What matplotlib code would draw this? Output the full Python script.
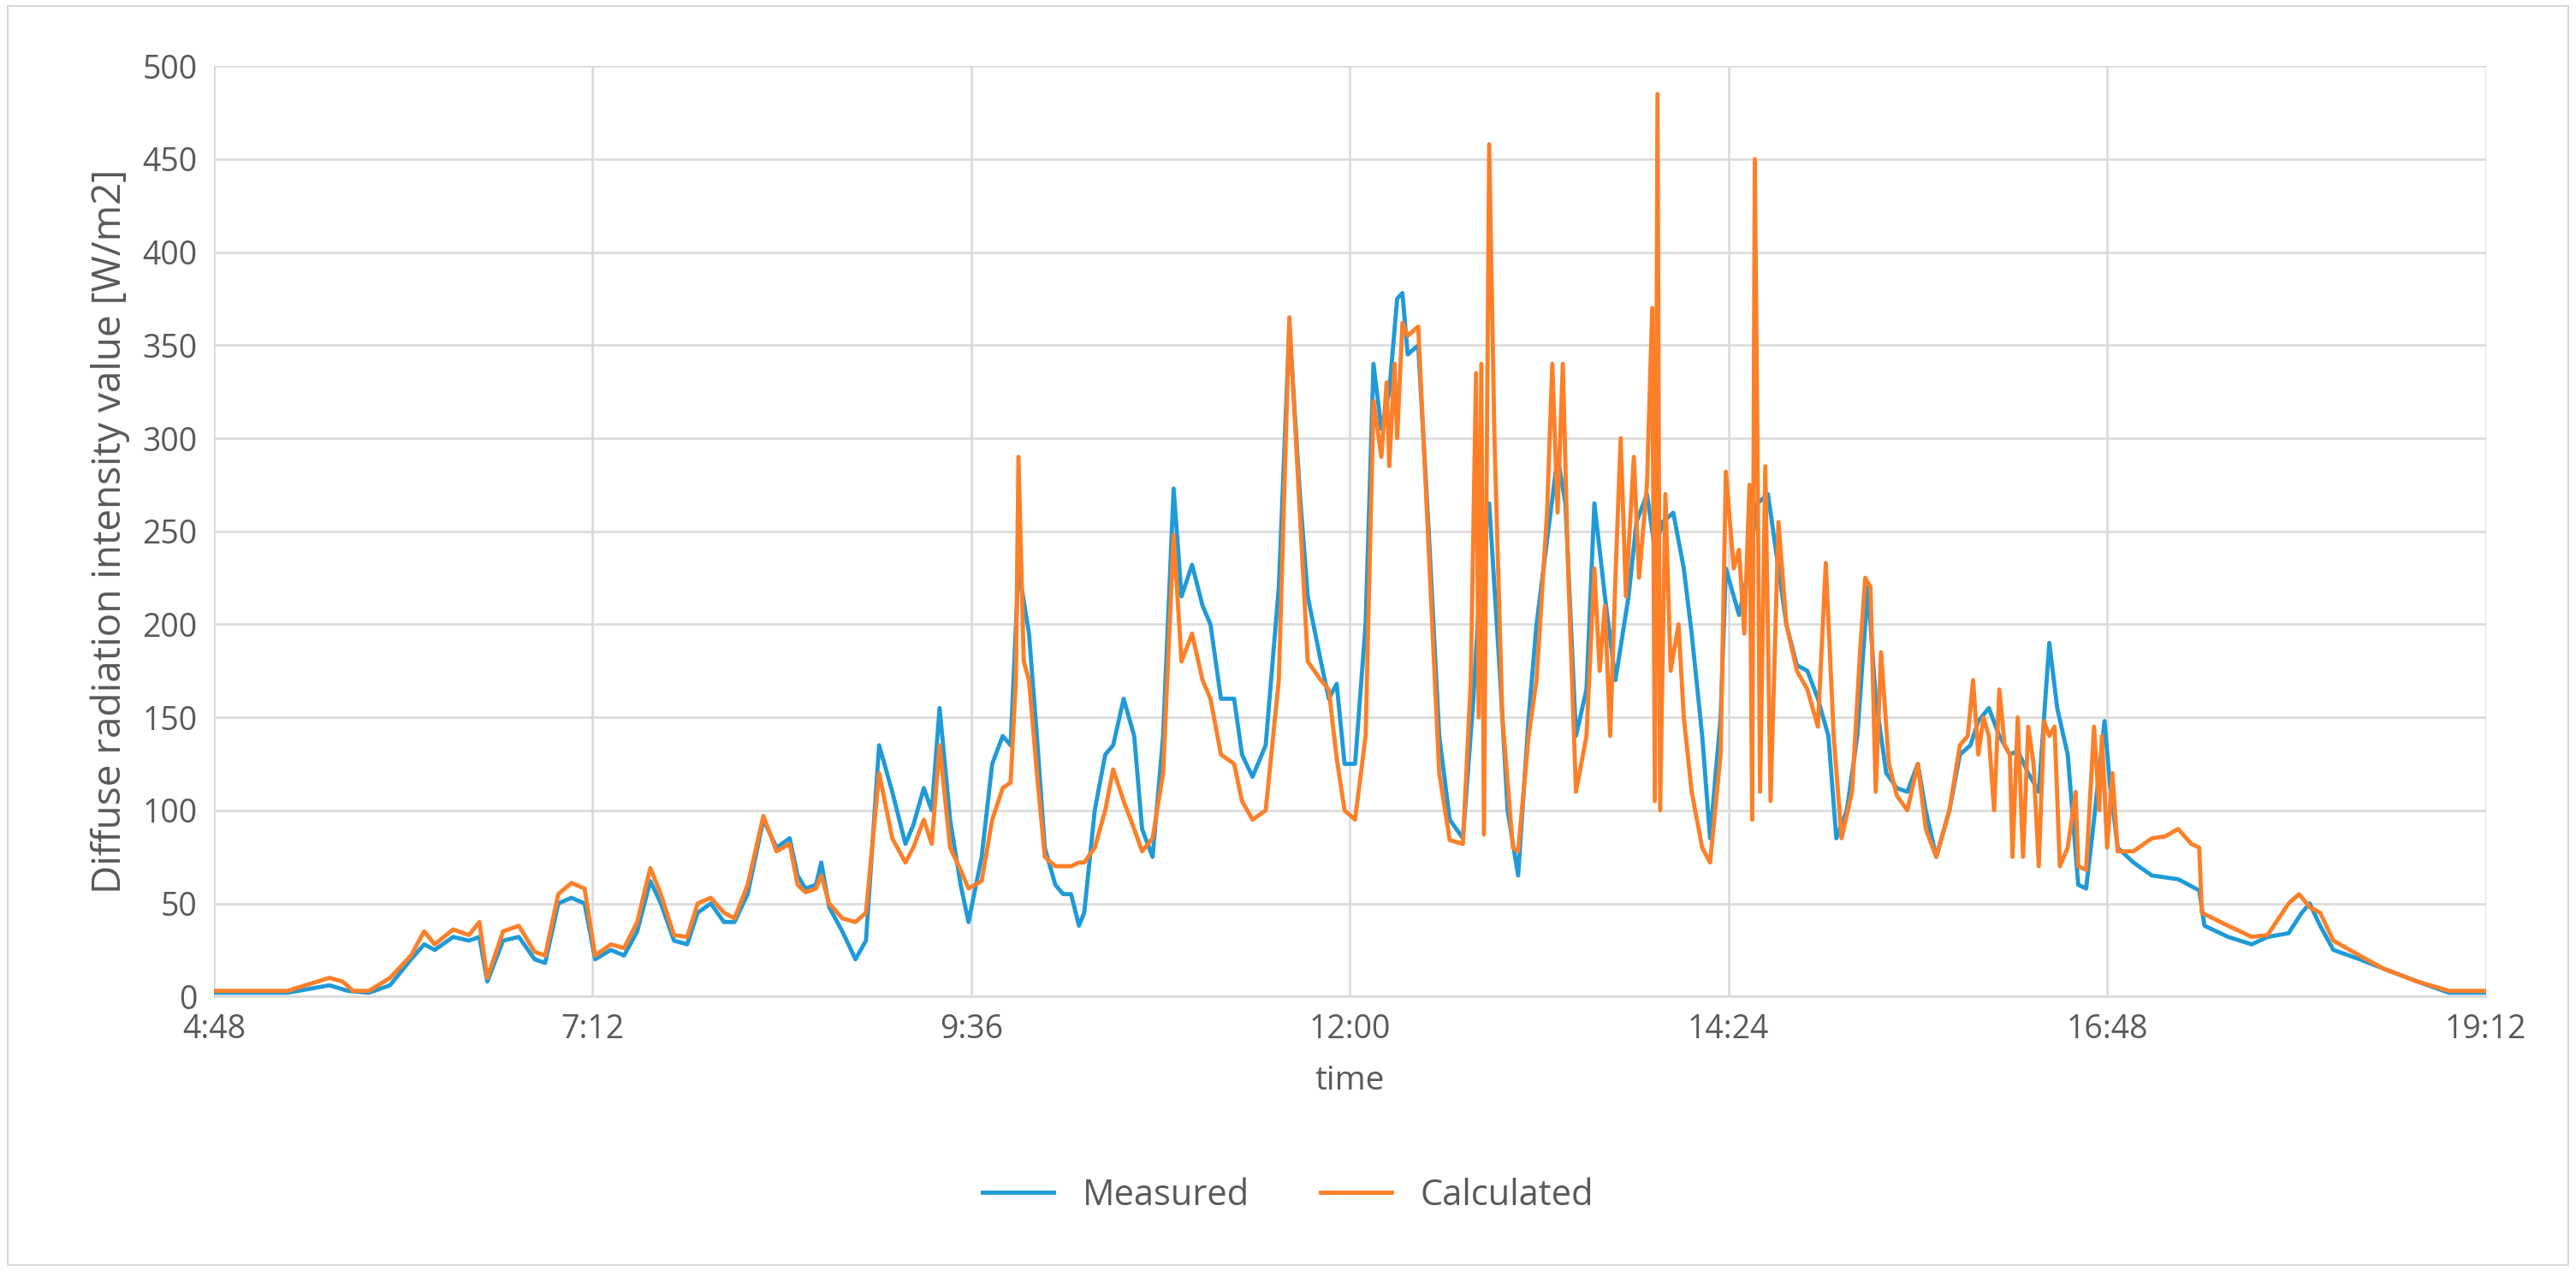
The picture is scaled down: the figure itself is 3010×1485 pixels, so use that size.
import matplotlib
matplotlib.use("Agg")
import matplotlib.pyplot as plt
from matplotlib.patches import Rectangle

# times in minutes after midnight, values in W/m2
meas_t = [288, 316, 332, 339, 347, 355, 363, 368, 372, 379, 385, 389, 392, 398, 404, 410, 414,
          419, 424, 429, 433, 439, 444, 449, 454, 458, 463, 468, 472, 477, 482, 486, 491, 497,
          502, 507, 510, 513, 517, 519, 522, 527, 532, 536, 541, 546, 551, 554, 558, 561, 564,
          568, 572, 575, 580, 584, 588, 591, 594, 598, 601, 604, 608, 611, 614, 617, 619, 623,
          627, 630, 634, 638, 641, 645, 649, 653, 656, 660, 664, 667, 671, 676, 679, 683, 688,
          693, 697, 701, 704, 709, 712, 715, 718, 722, 726, 729, 732, 735, 738, 740, 742, 746,
          750, 754, 758, 763, 767, 770, 773, 777, 780, 784, 788, 791, 795, 799, 802, 806, 810,
          813, 817, 821, 826, 829, 833, 836, 839, 843, 847, 850, 854, 857, 861, 863, 868, 871,
          875, 879, 883, 886, 890, 894, 898, 902, 905, 909, 913, 917, 920, 924, 928, 932, 936,
          939, 943, 948, 952, 956, 959, 963, 967, 971, 974, 978, 982, 986, 989, 993, 997, 1000,
          1003, 1007, 1009, 1012, 1018, 1025, 1035, 1043, 1045, 1054, 1063, 1069, 1077, 1082,
          1085, 1089, 1094, 1104, 1113, 1126, 1138, 1152]
meas_v = [2, 2, 6, 3, 2, 6, 20, 28, 25, 32, 30, 32, 8, 30, 32, 20, 18,
          50, 53, 50, 20, 25, 22, 35, 62, 50, 30, 28, 45, 50, 40, 40, 55, 95,
          80, 85, 65, 58, 60, 72, 48, 35, 20, 30, 135, 110, 82, 92, 112, 100, 155,
          95, 60, 40, 75, 125, 140, 135, 230, 195, 140, 80, 60, 55, 55, 38, 45, 100,
          130, 135, 160, 140, 90, 75, 140, 273, 215, 232, 210, 200, 160, 160, 130, 118, 135,
          220, 360, 270, 215, 180, 160, 168, 125, 125, 200, 340, 305, 325, 375, 378, 345, 350,
          250, 140, 95, 85, 160, 235, 265, 175, 100, 65, 150, 200, 245, 290, 265, 140, 165,
          265, 215, 170, 215, 255, 270, 240, 255, 260, 230, 195, 140, 85, 150, 230, 205, 225,
          265, 270, 230, 200, 178, 175, 160, 140, 85, 100, 140, 220, 160, 120, 112, 110, 125,
          100, 75, 100, 130, 135, 148, 155, 140, 130, 132, 120, 110, 190, 155, 130, 60, 58,
          95, 148, 115, 80, 72, 65, 63, 57, 38, 32, 28, 32, 34, 45,
          50, 38, 25, 20, 15, 8, 2, 2]

calc_t = [288, 316, 332, 337, 341, 347, 355, 363, 368, 372, 379, 385, 389, 392, 398, 404, 410,
          414, 419, 424, 429, 433, 439, 444, 449, 454, 458, 463, 468, 472, 477, 482, 486, 491,
          497, 502, 507, 510, 513, 517, 519, 522, 527, 532, 536, 541, 546, 551, 554, 558, 561,
          564, 568, 572, 575, 580, 584, 588, 591, 593, 594, 596, 598, 601, 604, 608, 611, 614,
          617, 619, 623, 627, 630, 634, 638, 641, 645, 649, 653, 656, 660, 664, 667, 671, 676,
          679, 683, 688, 693, 697, 701, 704, 709, 712, 715, 718, 722, 726, 729, 732, 734, 735,
          737, 738, 740, 742, 746, 750, 754, 758, 763, 766, 768, 769, 770, 771, 773, 775, 778,
          782, 784, 788, 791, 795, 797, 799, 801, 803, 806, 810, 813, 815, 817, 819, 821, 823,
          825, 828, 830, 833, 835, 836, 837, 838, 840, 842, 845, 847, 850, 854, 857, 861, 863,
          866, 868, 870, 872, 873, 874, 875, 876, 878, 880, 883, 886, 890, 894, 898, 901, 904,
          907, 911, 914, 916, 918, 920, 922, 925, 928, 932, 936, 939, 943, 948, 952, 955, 957,
          959, 961, 963, 965, 967, 969, 971, 972, 974, 976, 978, 980, 982, 984, 986, 988, 990,
          993, 996, 997, 1000, 1003, 1005, 1006, 1008, 1010, 1012, 1018, 1025, 1030, 1035, 1040,
          1043, 1044, 1054, 1063, 1069, 1077, 1081, 1085, 1089, 1094, 1104, 1113, 1126, 1138, 1152]
calc_v = [3, 3, 10, 8, 3, 3, 10, 22, 35, 28, 36, 33, 40, 10, 35, 38, 24,
          22, 55, 61, 58, 22, 28, 26, 40, 69, 55, 33, 32, 50, 53, 45, 42, 60,
          97, 78, 82, 60, 56, 58, 65, 50, 42, 40, 45, 120, 85, 72, 80, 95, 82,
          135, 80, 68, 58, 62, 95, 112, 115, 170, 290, 180, 170, 120, 75, 70, 70, 70,
          72, 72, 80, 100, 122, 105, 90, 78, 85, 120, 248, 180, 195, 170, 160, 130, 125,
          105, 95, 100, 170, 365, 260, 180, 170, 165, 128, 100, 95, 140, 320, 290, 330, 285,
          340, 300, 362, 355, 360, 240, 120, 84, 82, 170, 335, 150, 340, 87, 458, 300, 150,
          80, 78, 140, 170, 260, 340, 260, 340, 230, 110, 140, 230, 175, 210, 140, 225, 300,
          215, 290, 225, 275, 370, 105, 485, 100, 270, 175, 200, 150, 110, 80, 72, 130, 282,
          230, 240, 195, 275, 95, 450, 300, 110, 285, 105, 255, 200, 175, 165, 145, 233, 140,
          85, 110, 185, 225, 220, 110, 185, 125, 108, 100, 125, 90, 75, 100, 135, 140, 170,
          130, 150, 140, 100, 165, 135, 130, 75, 150, 75, 145, 125, 70, 148, 140, 145, 70,
          80, 110, 70, 68, 145, 100, 140, 80, 120, 78, 78, 85, 86, 90, 82,
          80, 45, 38, 32, 33, 50, 55, 48, 45, 30, 22, 15, 8, 3, 3]

tick_minutes = [288, 432, 576, 720, 864, 1008, 1152]
tick_labels = [f"{m // 60}:{m % 60:02d}" for m in tick_minutes]

plt.rcParams["font.family"] = ["Open Sans", "Liberation Sans", "DejaVu Sans"]

fig = plt.figure(figsize=(30.1, 14.85), dpi=100)
ax = fig.add_axes([0.083, 0.216, 0.882, 0.732])

ax.plot(meas_t, meas_v, color="#1f9ad8", lw=3.5, solid_joinstyle="round", label="Measured")
ax.plot(calc_t, calc_v, color="#fd7f28", lw=3.5, solid_joinstyle="round", label="Calculated")

ax.set_xlim(288, 1152)
ax.set_ylim(0, 500)
ax.set_xticks(tick_minutes)
ax.set_xticklabels(tick_labels)
ax.set_yticks(range(0, 501, 50))
ax.grid(True, color="#d9d9d9", lw=1.8)
ax.set_axisbelow(True)
for side in ["top", "right", "left"]:
    ax.spines[side].set_visible(False)
ax.spines["bottom"].set_color("#d9d9d9")
ax.spines["bottom"].set_linewidth(1.8)
ax.tick_params(length=0, labelsize=27, colors="#595959", pad=14)

ax.set_xlabel("time", fontsize=28, color="#595959", labelpad=16)
ax.set_ylabel("Diffuse radiation intensity value [W/m2]", fontsize=33, color="#595959", labelpad=10)

fig.legend(loc="lower center", bbox_to_anchor=(0.5, 0.02), ncol=2, frameon=False,
           fontsize=30, labelcolor="#595959", handlelength=2.0, columnspacing=2.0)

fig.add_artist(Rectangle((0.003, 0.005), 0.994, 0.99, transform=fig.transFigure,
                         fill=False, edgecolor="#d9d9d9", lw=1.5))

fig.savefig("out.png", dpi=100)
plt.close(fig)
